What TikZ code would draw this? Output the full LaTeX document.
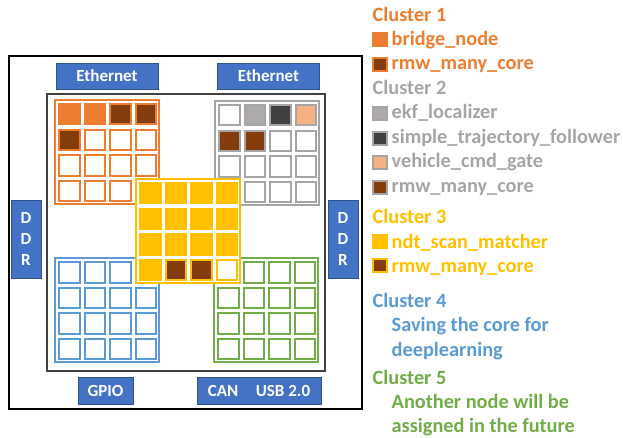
\documentclass[tikz,border=0pt]{standalone}
\usepackage{fontspec}
\setmainfont{Carlito}
\definecolor{corange}{HTML}{ED7D31}
\definecolor{cbrown}{HTML}{843C0C}
\definecolor{cgray}{HTML}{A5A5A5}
\definecolor{cekf}{HTML}{AEAAAA}
\definecolor{cdark}{HTML}{404040}
\definecolor{cpeach}{HTML}{F4B183}
\definecolor{cyellow}{HTML}{FFC000}
\definecolor{cblue}{HTML}{5B9BD5}
\definecolor{cgreen}{HTML}{70AD47}
\definecolor{portblue}{HTML}{4472C4}
\definecolor{portedge}{HTML}{2F528F}

% one 4x4 block of cores: #1 name, #2/#3 top-left corner, #4 line colour, #5 the 16 fills row by row
\newcommand\corecluster[5]{%
  \node[clusterframe=#4] (#1) at ({#2+53},{#3+53}) {};
  \foreach \f [count=\k from 0] in {#5} {
    \pgfmathtruncatemacro\row{floor(\k/4)}
    \pgfmathtruncatemacro\col{mod(\k,4)}
    \node[corecell=#4, fill=\f] (#1-\row-\col) at ({#2+15.25+\col*25.6},{#3+15.25+\row*25.6}) {};
  }%
}

\begin{document}
\begin{tikzpicture}[x=1pt,y=-1pt,
  portbox/.style={draw=portedge, line width=0.9pt, fill=portblue, text=white,
    font=\fontsize{17}{21}\selectfont\bfseries, inner sep=0, align=center},
  clusterframe/.style={draw=#1, line width=2pt, fill=white, inner sep=0, minimum size=104pt},
  corecell/.style={draw=#1, line width=2pt, inner sep=0, minimum size=20.5pt},
  swatch/.style={draw=#1, line width=2pt, inner sep=0, minimum width=14pt, minimum height=13pt},
  legend/.style={anchor=base west, inner sep=0, text=#1, font=\fontsize{20.3}{24}\selectfont\bfseries}
]
\useasboundingbox (0,0) rectangle (623,438);

% chip package and die
\node[draw=black, line width=2pt, inner sep=0, minimum width=353pt, minimum height=353pt] (chip) at (185.5,232.5) {};
\node[draw=cdark, line width=2pt, inner sep=0, minimum width=278pt, minimum height=277pt] (die) at (186,232.5) {};

% peripherals
\node[portbox, minimum width=102pt, minimum height=26pt] (eth1) at (107,76) {Ethernet};
\node[portbox, minimum width=102pt, minimum height=26pt] (eth2) at (268.5,76) {Ethernet};
\node[portbox, minimum width=30pt, minimum height=78pt] (ddr1) at (26,239) {D\\D\\R};
\node[portbox, minimum width=30pt, minimum height=78pt] (ddr2) at (343,239) {D\\D\\R};
\node[portbox, minimum width=55pt, minimum height=27pt] (gpio) at (105.5,391) {GPIO};
\node[portbox, minimum width=124pt, minimum height=27pt] (canusb) at (259,391) {CAN\hspace{17.5pt}USB 2.0};

% core clusters
\corecluster{ca}{54}{99}{corange}{corange,corange,cbrown,cbrown, cbrown,white,white,white, white,white,white,white, white,white,white,white}
\corecluster{cb}{214}{100}{cgray}{white,cekf,cdark,cpeach, cbrown,cbrown,white,white, white,white,white,white, white,white,white,white}
\corecluster{cd}{54}{257}{cblue}{white,white,white,white, white,white,white,white, white,white,white,white, white,white,white,white}
\corecluster{ce}{213}{257}{cgreen}{white,white,white,white, white,white,white,white, white,white,white,white, white,white,white,white}
\corecluster{cc}{135}{178}{cyellow}{cyellow,cyellow,cyellow,cyellow, cyellow,cyellow,cyellow,cyellow, cyellow,cyellow,cyellow,cyellow, cyellow,cbrown,cbrown,white}

% legend
\node[legend=corange] (l1) at (372.5,21.7) {Cluster 1};
\node[swatch=corange, fill=corange] (s11) at (380,40) {};
\node[legend=corange] (l11) at (391.5,45.7) {bridge\_node};
\node[swatch=corange, fill=cbrown] (s12) at (380,64.5) {};
\node[legend=corange] (l12) at (391.5,70) {rmw\_many\_core};

\node[legend=cgray] (l2) at (372.5,94.3) {Cluster 2};
\node[swatch=cgray, fill=cekf] (s21) at (380,113.3) {};
\node[legend=cgray] (l21) at (391.5,118.3) {ekf\_localizer};
\node[swatch=cgray, fill=cdark] (s22) at (380,138.2) {};
\node[legend=cgray] (l22) at (391.5,143.3) {simple\_trajectory\_follower};
\node[swatch=cgray, fill=cpeach] (s23) at (380,162.5) {};
\node[legend=cgray] (l23) at (391.5,167.7) {vehicle\_cmd\_gate};
\node[swatch=cgray, fill=cbrown] (s24) at (380,187.5) {};
\node[legend=cgray] (l24) at (391.5,192.7) {rmw\_many\_core};

\node[legend=cyellow] (l3) at (372.5,224) {Cluster 3};
\node[swatch=cyellow, fill=cyellow] (s31) at (380,241.8) {};
\node[legend=cyellow] (l31) at (391.5,248.3) {ndt\_scan\_matcher};
\node[swatch=cyellow, fill=cbrown] (s32) at (380,265.8) {};
\node[legend=cyellow] (l32) at (391.5,272.7) {rmw\_many\_core};

\node[legend=cblue] (l4) at (372.5,307.7) {Cluster 4};
\node[legend=cblue] (l41) at (391.5,331.7) {Saving the core for};
\node[legend=cblue] (l42) at (391.5,356.7) {deeplearning};

\node[legend=cgreen] (l5) at (372.5,384.3) {Cluster 5};
\node[legend=cgreen] (l51) at (391.5,408.3) {Another node will be};
\node[legend=cgreen] (l52) at (391.5,432.7) {assigned in the future};
\end{tikzpicture}
\end{document}
